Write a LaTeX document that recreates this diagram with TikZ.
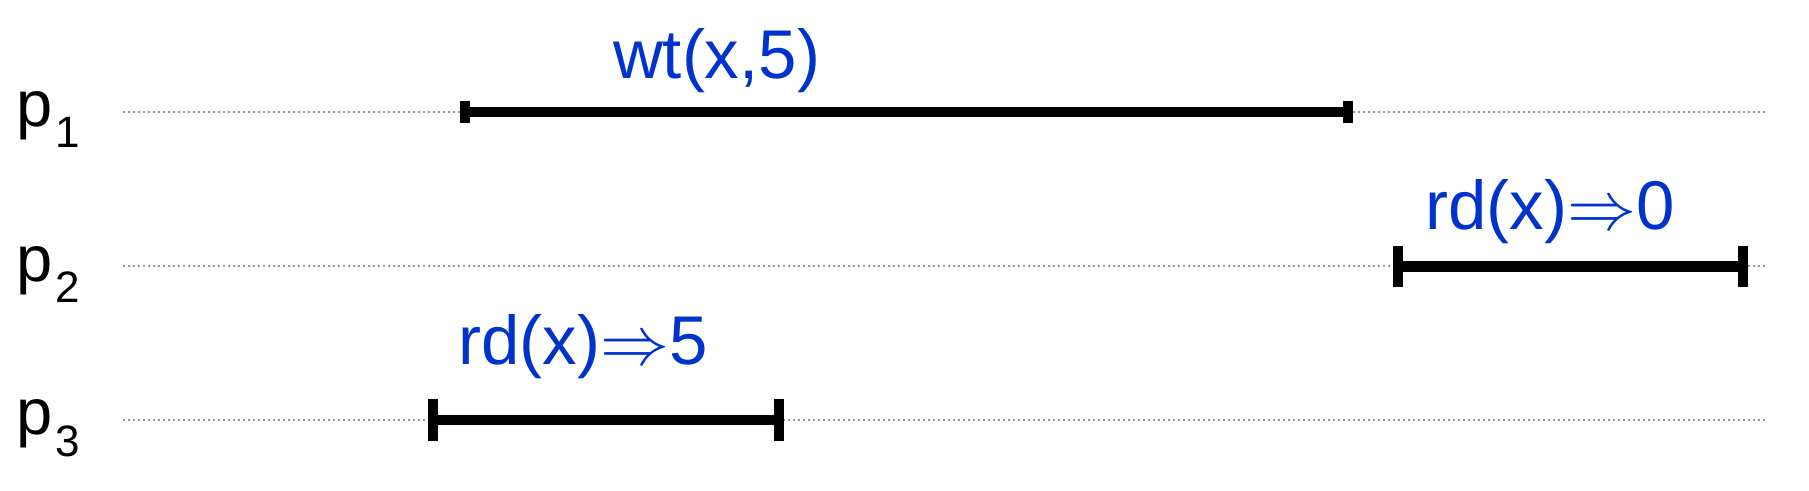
\RequirePackage{fix-cm}
\documentclass[tikz,border=0pt]{standalone}
\usepackage{fontspec}
\setmainfont{Liberation Sans}
\definecolor{lblue}{RGB}{0,51,204}
\definecolor{dotgray}{RGB}{150,150,150}
\begin{document}
\begin{tikzpicture}[x=0.5pt,y=-0.5pt,
  timeline/.style={draw=dotgray, line width=1pt, dash pattern=on 1pt off 1.5pt},
  interval/.style={draw=black, line width=5.3pt},
  tickmark/.style={draw=black, line width=5pt},
  oplabel/.style={text=lblue, font=\fontsize{34.5}{40}\selectfont, inner sep=0pt, anchor=base},
  proclabel/.style={font=\fontsize{32.5}{36}\selectfont, inner sep=0pt, anchor=base west}]
\useasboundingbox (0,0) rectangle (1809,491);
% timelines
\coordinate (l1s) at (123,112); \coordinate (l1e) at (1765,112);
\coordinate (l2s) at (123,266.5); \coordinate (l2e) at (1765,266.5);
\coordinate (l3s) at (123,420); \coordinate (l3e) at (1765,420);
\draw[timeline] (l1s) -- (l1e);
\draw[timeline] (l2s) -- (l2e);
\draw[timeline] (l3s) -- (l3e);
% process labels
\node[proclabel] (p1) at (16,127) {p\kern1.5pt\raisebox{-10.5pt}{\fontsize{22}{24}\selectfont 1}};
\node[proclabel] (p2) at (16,282) {p\kern1.5pt\raisebox{-10.5pt}{\fontsize{22}{24}\selectfont 2}};
\node[proclabel] (p3) at (16,435) {p\kern1.5pt\raisebox{-10.5pt}{\fontsize{22}{24}\selectfont 3}};
% intervals
\coordinate (a1) at (465,112); \coordinate (b1) at (1347.7,112);
\coordinate (a2) at (1397.7,266.5); \coordinate (b2) at (1743,266.5);
\coordinate (a3) at (433,420); \coordinate (b3) at (778.7,420);
\draw[interval] (a1) -- (b1);
\draw[interval] (a2) -- (b2);
\draw[interval] (a3) -- (b3);
\draw[tickmark] (a1) ++(0,-11) -- ++(0,22);
\draw[tickmark] (b1) ++(0,-11) -- ++(0,22);
\draw[tickmark] (a2) ++(0,-20.8) -- ++(0,41.6);
\draw[tickmark] (b2) ++(0,-20.8) -- ++(0,41.6);
\draw[tickmark] (a3) ++(0,-20.8) -- ++(0,41.6);
\draw[tickmark] (b3) ++(0,-20.8) -- ++(0,41.6);
% operation labels
\node[oplabel] (w1) at (716.5,78.3) {wt(x,5)};
\node[oplabel] (r2) at (1550,229.3) {rd(x)$\Rightarrow$0};
\node[oplabel] (r3) at (583,365) {rd(x)$\Rightarrow$5};
\end{tikzpicture}
\end{document}
